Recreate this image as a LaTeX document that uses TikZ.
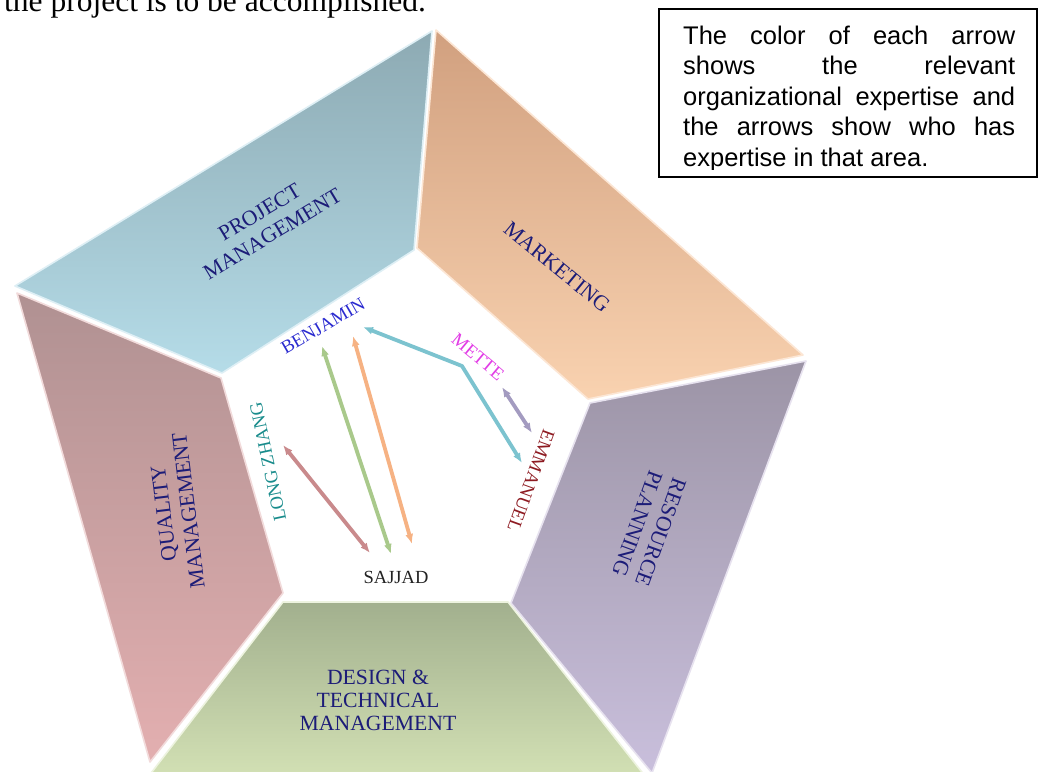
\documentclass[tikz,border=0pt]{standalone}
\usepackage{fontspec}
\setmainfont{Liberation Serif}
\newfontfamily\boxfont{Liberation Sans}
\usetikzlibrary{arrows.meta}
\definecolor{pmTop}{HTML}{8DAAB3}
\definecolor{pmBot}{HTML}{B5DCE8}
\definecolor{mkTop}{HTML}{D1A07F}
\definecolor{mkBot}{HTML}{F9D2B0}
\definecolor{rpTop}{HTML}{9C94A6}
\definecolor{rpBot}{HTML}{C9BFDC}
\definecolor{dtTop}{HTML}{A2B08E}
\definecolor{dtBot}{HTML}{D6E4B7}
\definecolor{qmTop}{HTML}{B09192}
\definecolor{qmBot}{HTML}{E3AFB0}
\definecolor{navyLbl}{HTML}{1C1C78}
\definecolor{arrTeal}{HTML}{7CC3CF}
\definecolor{arrPurple}{HTML}{A39BC0}
\definecolor{arrGreen}{HTML}{A9C98B}
\definecolor{arrOrange}{HTML}{F6B283}
\definecolor{arrPink}{HTML}{C98A8C}
\definecolor{cBen}{HTML}{2B2BD0}
\definecolor{cMette}{HTML}{E23CE6}
\definecolor{cEmm}{HTML}{8E1B22}
\definecolor{cLong}{HTML}{198C8C}
\definecolor{cSaj}{HTML}{222222}
\tikzset{
  panel/.style={line width=1.6pt, line join=round},
  plabel/.style={inner sep=0pt, align=center, text=navyLbl, font=\fontsize{21.7}{25}\selectfont},
  namelbl/.style={inner sep=0pt, font=\fontsize{18.5}{20}\selectfont},
  arr/.style={line width=3.8pt, >={Latex[length=10pt,width=8pt]}, <->},
  boxline/.style={anchor=base west, inner sep=0pt, font=\boxfont\fontsize{25.5}{30.5}\selectfont}
}
\begin{document}
\begin{tikzpicture}[x=1pt,y=-1pt]
\useasboundingbox (0,0) rectangle (1041,771);
\clip (0,0) rectangle (1041,771);
\fill[white] (0,0) rectangle (1041,771);

% cropped line of body text
\node[anchor=base west, inner sep=0pt, font=\fontsize{31.5}{36}\selectfont] (toptext) at (4,11) {the project is to be accomplished.};

% panels
\path[panel, top color=pmTop, bottom color=pmBot, draw=pmBot!45!white] (15,286) -- (432,31) -- (414,250) -- (222,373) -- cycle;
\path[panel, top color=mkTop, bottom color=mkBot, draw=mkBot!55!white] (436,30) -- (803,355) -- (588,399) -- (417,248) -- cycle;
\path[panel, top color=rpTop, bottom color=rpBot, draw=rpBot!45!white] (806,361) -- (652,773) -- (511,603) -- (590,403) -- cycle;
\path[panel, top color=dtTop, bottom color=dtBot, draw=dtBot!45!white] (283,602) -- (508,602) -- (656,790) -- (138,790) -- cycle;
\path[panel, top color=qmTop, bottom color=qmBot, draw=qmBot!45!white] (17,293) -- (221,378) -- (283,593) -- (150,762) -- cycle;

% panel labels
\node[plabel, rotate=31] (pm) at (266,223) {PROJECT\\MANAGEMENT};
\node[plabel, rotate=-39.5] (mk) at (557,267) {MARKETING};
\node[plabel, rotate=-110] (rp) at (649,528) {RESOURCE\\PLANNING};
\node[plabel, font=\fontsize{21.7}{23}\selectfont] (dt) at (378,700) {DESIGN \&\\TECHNICAL\\MANAGEMENT};
\node[plabel, rotate=97] (qm) at (176,512) {QUALITY\\MANAGEMENT};

% names
\node[namelbl, text=cBen, rotate=30] (ben) at (323,326) {BENJAMIN};
\node[namelbl, text=cMette, rotate=-40] (mette) at (478,357) {METTE};
\node[namelbl, text=cEmm, rotate=-110] (emm) at (531,481) {EMMANUEL};
\node[namelbl, text=cLong, rotate=102] (long) at (268,462) {LONG ZHANG};
\node[namelbl, text=cSaj] (saj) at (396,577) {SAJJAD};

% arrow end points
\coordinate (tA) at (522,463);
\coordinate (tB) at (462,366);
\coordinate (tC) at (363,327);
\coordinate (uA) at (502,387);
\coordinate (uB) at (532,433);
\coordinate (gA) at (322,346);
\coordinate (gB) at (391,554);
\coordinate (oA) at (353,336);
\coordinate (oB) at (412,544);
\coordinate (kA) at (283,445);
\coordinate (kB) at (370,553);

\draw[arr, draw=arrTeal, line join=round] (tA) -- (tB) -- (tC);
\draw[arr, draw=arrPurple] (uA) -- (uB);
\draw[arr, draw=arrGreen] (gA) -- (gB);
\draw[arr, draw=arrOrange] (oA) -- (oB);
\draw[arr, draw=arrPink] (kA) -- (kB);

% explanation box
\node[draw=black, line width=2pt, fill=white, minimum width=378pt, minimum height=168pt, anchor=north west, inner sep=0pt] (box) at (658,8) {};
\begin{scope}
\clip (660,10) rectangle (1035,169.5);
\node[boxline] (l1) at (683,44) {\makebox[332pt][s]{The color of each arrow}};
\node[boxline] (l2) at (683,74.5) {\makebox[332pt][s]{shows the relevant}};
\node[boxline] (l3) at (683,105) {\makebox[332pt][s]{organizational expertise and}};
\node[boxline] (l4) at (683,135.5) {\makebox[332pt][s]{the arrows show who has}};
\node[boxline] (l5) at (683,166.5) {expertise in that area.};
\end{scope}
\end{tikzpicture}
\end{document}
